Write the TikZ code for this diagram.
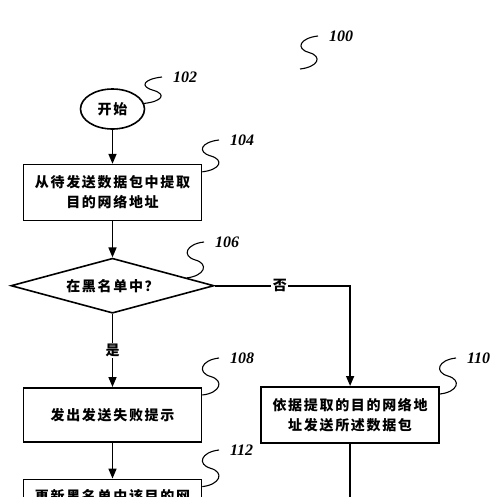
\documentclass[tikz,border=0pt]{standalone}
\usepackage{fontspec}
\setmainfont{Liberation Serif}
\newfontfamily\cjk{Noto Sans CJK SC}[LetterSpace=12]
\usetikzlibrary{shapes.geometric,arrows.meta,positioning,calc}

\begin{document}
\begin{tikzpicture}[
        x=1pt, y=-1pt,
        node distance=36pt,
        cjktext/.style={
            font=\cjk\bfseries\fontsize{14}{20}\selectfont
        },
        box/.style={
            rectangle,
            draw,
            cjktext,
            minimum width=178pt,
            minimum height=56pt,
            align=center,
            line width=1.6pt
        },
        terminal/.style={
            ellipse,
            draw,
            cjktext,
            minimum width=64pt,
            minimum height=40pt,
            inner sep=0pt,
            line width=1.6pt
        },
        decision/.style={
            diamond,
            draw,
            cjktext,
            aspect=3.7,
            minimum width=203pt,
            minimum height=55pt,
            inner sep=0pt,
            line width=1.6pt
        },
        refnum/.style={
            font=\bfseries\itshape\fontsize{16}{16}\selectfont,
            inner sep=0pt,
            outer xsep=11pt,
            anchor=west
        },
        answer/.style={
            cjktext,
            fill=white,
            inner sep=1.5pt
        },
        arrow/.style={
            ->,
            >={Triangle[length=10pt,width=8pt]},
            line width=1.6pt
        },
        line/.style={
            line width=1.6pt
        },
        callout/.style={
            line width=1.1pt
        },
        squiggle/.style={
            to path={.. controls +(18,-2) and +(14,4)
                .. ($(\tikztostart)!0.5!(\tikztotarget)$)
                .. controls +(-14,-4) and +(-18,2) .. (\tikztotarget)}
        }
    ]
    \useasboundingbox (0,0) rectangle (500,496);
    \clip (0,0) rectangle (500,496);
    % Main flow
    \node[terminal] (start) at (112.5,109) {开始};
    \node[box, below=34pt of start] (extract) {从待发送数据包中提取\\目的网络地址};
    \node[decision, below=of extract] (check) {在黑名单中？};
    \node[box, minimum height=54pt, below=73pt of check] (fail) {发出发送失败提示};
    \node[box, below=of fail, text height=19pt, text depth=30pt] (update) {更新黑名单中该目的网};
    \node[box, right=58pt of fail] (send) {依据提取的目的网络地\\址发送所述数据包};
    \coordinate[below=70pt of send.south] (sendout);
    % Connections
    \draw[arrow] (start) -- (extract);
    \draw[arrow] (extract) -- (check);
    \draw[arrow] (check) -- node[answer] {是} (fail);
    \draw[arrow] (check.east) -| node[answer, pos=0.24] {否} (send.north);
    \draw[arrow] (fail) -- (update);
    \draw[line] (send.south) -- (sendout);
    % Reference numerals
    \coordinate (c100) at (300,69);
    \node[refnum] (l100) at (318,36) {100};
    \node[refnum] (l102) at (162,77) {102};
    \node[refnum] (l104) at (219,140) {104};
    \node[refnum] (l106) at (204,242) {106};
    \node[refnum] (l108) at (219,358) {108};
    \node[refnum] (l110) at (456,358) {110};
    \node[refnum] (l112) at (219,450) {112};
    \draw[callout] (c100) to[squiggle] (l100.west);
    \draw[callout] (start.10) to[squiggle] (l102.west);
    \draw[callout] ([yshift=-8pt]extract.north east) to[squiggle] (l104.west);
    \draw[callout] (check.6) to[squiggle] (l106.west);
    \draw[callout] ([yshift=-8pt]fail.north east) to[squiggle] (l108.west);
    \draw[callout] ([yshift=-8pt]send.north east) to[squiggle] (l110.west);
    \draw[callout] ([yshift=-8pt]update.north east) to[squiggle] (l112.west);
\end{tikzpicture}
\end{document}
